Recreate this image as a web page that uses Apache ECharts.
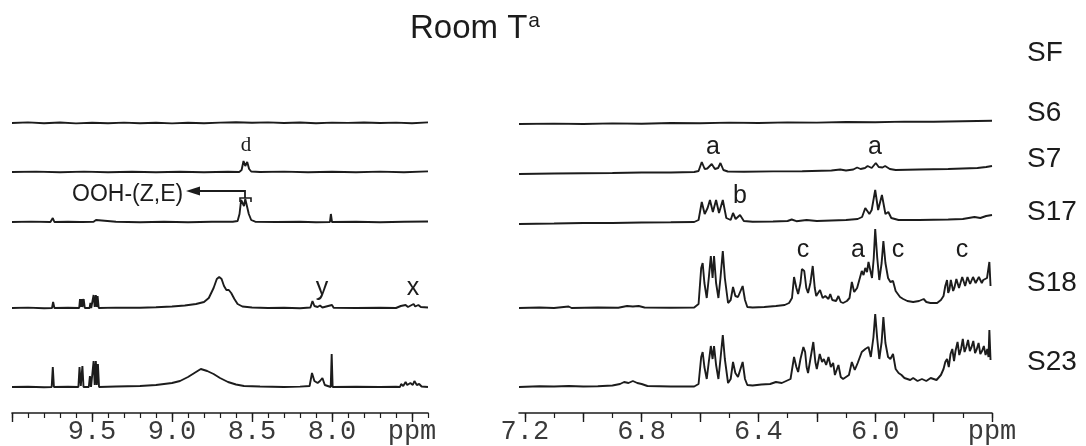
<!DOCTYPE html>
<html>
<head>
<meta charset="utf-8">
<script src="https://cdn.jsdelivr.net/npm/echarts@6/dist/echarts.min.js"></script>
<style>html,body{margin:0;padding:0;background:#fff}#c{width:1086px;height:446px}</style>
</head>
<body>
<div id="c"></div>
<script>
// ---------- DATA (ppm, intensity) ----------
const sampleNames = ['SF', 'S6', 'S7', 'S17', 'S18', 'S23'];
const leftTickLabels = [9.5, 9.0, 8.5, 8.0];
const rightTickLabels = [7.2, 6.8, 6.4, 6.0];
const unitLabel = 'ppm';

// Left panel (10.0 - 7.4 ppm)
const S6_L = [[10.0,0],[9.9,0.6],[9.8,-0.3],[9.7,0.5],[9.6,-0.4],[9.5,0.3],[9.4,-0.3],[9.3,0.4],[9.2,-0.2],[9.1,0.3],[9.0,-0.4],[8.9,0.3],[8.8,-0.2],[8.7,0.4],[8.6,0.8],[8.5,0.2],[8.4,0.6],[8.3,0],[8.2,0.5],[8.1,-0.2],[8.0,0.4],[7.9,0.1],[7.8,0.5],[7.7,0],[7.6,0.4],[7.5,-0.2],[7.4,0.6]];
const S7_L = [[10.0,0],[9.85,0.4],[9.7,-0.3],[9.55,0.4],[9.4,-0.2],[9.25,0.3],[9.1,-0.3],[8.95,0.3],[8.8,-0.2],[8.65,0.3],[8.58,0],[8.565,2],[8.553,11],[8.542,6],[8.53,10],[8.518,3],[8.505,0.5],[8.45,0],[8.3,0.4],[8.15,-0.3],[8.0,0.3],[7.85,-0.2],[7.7,0.4],[7.55,-0.2],[7.4,0.6]];
const S17_L = [[10.0,0],[9.88,0.4],[9.76,0],[9.745,4],[9.735,0],[9.65,0.3],[9.575,0],[9.568,2],[9.56,0],[9.49,0.3],[9.475,2],[9.468,0],[9.35,0.3],[9.2,-0.2],[9.05,0.3],[8.9,-0.2],[8.75,0.3],[8.62,0.2],[8.59,1],[8.578,8],[8.568,22],[8.56,24],[8.55,16],[8.542,23],[8.532,21],[8.52,8],[8.505,2],[8.48,0.3],[8.35,0],[8.2,0.3],[8.1,-0.2],[8.013,0],[8.007,8],[8.0,0],[7.85,0.3],[7.7,-0.2],[7.55,0.3],[7.4,0.5]];
const S18_L = [[10.0,0],[9.9,0.4],[9.8,-0.3],[9.75,0],[9.743,6],[9.735,0],[9.65,0.3],[9.58,0],[9.575,9],[9.57,1],[9.565,9],[9.56,1],[9.552,9],[9.545,0],[9.515,0],[9.51,5],[9.505,0],[9.495,0],[9.49,13],[9.483,1],[9.476,13],[9.47,1],[9.465,12],[9.458,0],[9.35,0.4],[9.2,0.3],[9.1,0.8],[9.0,1.5],[8.92,2.5],[8.85,4],[8.8,6],[8.77,10],[8.74,20],[8.72,29],[8.705,31],[8.69,29],[8.675,22],[8.66,18],[8.645,18],[8.63,15],[8.61,9],[8.59,4],[8.56,1.5],[8.5,0.5],[8.4,0],[8.3,0.3],[8.2,-0.2],[8.135,0.5],[8.122,7],[8.11,2],[8.09,1],[8.075,2.5],[8.06,0.5],[8.0,3],[7.99,0.3],[7.85,0],[7.7,0.3],[7.6,0],[7.57,2],[7.56,0.5],[7.54,3],[7.525,1],[7.49,4],[7.48,1.5],[7.46,3],[7.445,1],[7.4,0.5]];
const S23_L = [[10.0,0],[9.9,0.3],[9.8,-0.2],[9.752,0],[9.745,20],[9.738,0],[9.65,0.3],[9.585,0],[9.578,20],[9.57,1],[9.56,21],[9.553,0],[9.52,0],[9.513,11],[9.506,0],[9.495,0],[9.49,26],[9.483,2],[9.476,26],[9.47,2],[9.463,23],[9.456,0],[9.35,0.5],[9.2,1],[9.1,2],[9.0,4],[8.95,6],[8.9,10],[8.86,14],[8.82,18],[8.78,16],[8.74,13],[8.7,9],[8.65,5],[8.6,2.5],[8.55,1],[8.45,0.5],[8.3,0],[8.2,0.4],[8.14,1],[8.125,14],[8.11,6],[8.09,4],[8.075,6],[8.06,9],[8.045,2],[8.008,0],[8.002,33],[7.996,0],[7.85,0.3],[7.7,0],[7.6,0.3],[7.575,0],[7.568,3],[7.555,1],[7.54,5],[7.53,2],[7.51,4],[7.495,2],[7.485,6],[7.47,2],[7.455,3],[7.44,0.5],[7.4,0]];

// Right panel (7.22 - 5.6 ppm)
const S6_R = [[7.22,-1],[7.1,-0.6],[7.0,-1],[6.9,-0.4],[6.8,-0.7],[6.7,0],[6.6,-0.3],[6.5,0.4],[6.4,0],[6.3,0.6],[6.2,0.4],[6.1,1],[6.0,0.8],[5.9,1.4],[5.8,1.2],[5.7,1.8],[5.6,2.2]];
const S7_R = [[7.22,-2],[7.1,-1.5],[7.0,-1.2],[6.9,-1],[6.8,-0.5],[6.7,-0.5],[6.62,0],[6.605,1],[6.594,10],[6.584,3],[6.575,3.5],[6.56,8],[6.549,3],[6.538,4],[6.53,9],[6.52,2],[6.505,0.5],[6.45,0.3],[6.35,0.6],[6.25,0.8],[6.15,1.5],[6.12,2.5],[6.1,1.5],[6.075,2.5],[6.062,4.5],[6.05,3],[6.035,4],[6.026,6],[6.012,4],[5.998,9],[5.988,5],[5.975,4.5],[5.966,6],[5.95,3],[5.93,2],[5.85,2.5],[5.75,3],[5.7,3.5],[5.65,4],[5.62,5],[5.6,6]];
const S17_R = [[7.22,-2],[7.1,-1.5],[7.0,-1],[6.9,-1],[6.8,-0.5],[6.7,-0.3],[6.62,0],[6.605,2],[6.594,20],[6.584,8],[6.574,14],[6.566,22],[6.556,10],[6.545,22],[6.535,9],[6.522,22],[6.51,4],[6.495,2],[6.487,9],[6.478,3],[6.463,7],[6.45,1],[6.42,0.3],[6.35,0.5],[6.3,1],[6.286,2.5],[6.27,0.8],[6.235,2],[6.2,1],[6.15,1.5],[6.1,2],[6.06,3],[6.045,5],[6.034,14],[6.02,8],[6.012,12],[6.0,32],[5.99,12],[5.977,27],[5.965,8],[5.955,10],[5.945,4],[5.92,2],[5.85,2],[5.75,2.5],[5.7,3],[5.66,5],[5.64,4],[5.62,6],[5.6,7]];
const S18_R = [[7.22,0],[7.15,0.5],[7.1,0],[7.05,1.5],[7.04,0],[6.95,0.5],[6.88,0.3],[6.85,2],[6.83,1.5],[6.81,2],[6.79,0.5],[6.7,0.3],[6.62,0.5],[6.605,4],[6.596,40],[6.591,45],[6.585,25],[6.577,10],[6.57,30],[6.563,52],[6.557,30],[6.552,52],[6.545,25],[6.537,10],[6.53,30],[6.522,57],[6.515,30],[6.504,5],[6.495,8],[6.487,21],[6.479,12],[6.47,11],[6.454,22],[6.446,8],[6.438,1],[6.42,0.5],[6.38,1],[6.34,2],[6.31,3],[6.295,5],[6.285,10],[6.278,31],[6.27,20],[6.264,14],[6.256,25],[6.251,39],[6.243,37],[6.236,20],[6.23,15],[6.222,25],[6.214,42],[6.207,20],[6.202,12],[6.189,18],[6.18,10],[6.171,12],[6.16,9],[6.154,14],[6.147,8],[6.141,10],[6.134,7],[6.126,12],[6.118,6],[6.11,5],[6.097,7],[6.088,10],[6.08,26],[6.072,16],[6.062,20],[6.046,37],[6.04,33],[6.034,40],[6.028,36],[6.023,46],[6.017,38],[6.011,30],[6.005,50],[6.0,79],[5.993,50],[5.986,28],[5.978,45],[5.972,67],[5.965,45],[5.956,30],[5.948,26],[5.939,27],[5.93,17],[5.926,15],[5.915,11],[5.904,9],[5.89,7],[5.87,6],[5.85,7],[5.834,9],[5.825,6],[5.811,5],[5.8,5],[5.788,5],[5.775,8],[5.766,12],[5.76,22],[5.754,28],[5.75,15],[5.746,18],[5.741,28],[5.737,29],[5.733,17],[5.729,20],[5.722,29],[5.718,30],[5.713,20],[5.709,22],[5.702,31],[5.697,32],[5.692,22],[5.688,24],[5.684,31],[5.68,32],[5.675,24],[5.671,26],[5.665,31],[5.661,31],[5.656,25],[5.65,27],[5.645,31],[5.64,30],[5.635,25],[5.63,28],[5.624,27],[5.617,30],[5.612,29],[5.609,46],[5.605,22]];
const S23_R = [[7.22,0],[7.15,0.8],[7.1,0.5],[7.05,1],[7.0,0.5],[6.95,0.8],[6.9,1.5],[6.874,3],[6.86,5],[6.845,4],[6.83,6],[6.815,4],[6.8,3],[6.78,1],[6.7,0.5],[6.62,0.5],[6.605,3],[6.596,30],[6.591,35],[6.585,20],[6.577,8],[6.57,25],[6.563,41],[6.557,28],[6.552,41],[6.545,22],[6.537,8],[6.53,28],[6.522,52],[6.515,28],[6.504,4],[6.495,8],[6.487,25],[6.479,14],[6.47,10],[6.454,25],[6.446,8],[6.438,2],[6.42,1.5],[6.39,2.5],[6.36,3],[6.34,5],[6.32,4],[6.305,6],[6.29,8],[6.278,30],[6.27,20],[6.264,15],[6.256,28],[6.246,40],[6.24,35],[6.235,20],[6.23,14],[6.222,28],[6.212,45],[6.205,25],[6.2,18],[6.19,33],[6.182,25],[6.176,28],[6.168,22],[6.16,30],[6.152,20],[6.144,24],[6.138,12],[6.126,22],[6.118,10],[6.11,8],[6.1,10],[6.09,12],[6.08,25],[6.07,17],[6.06,24],[6.046,35],[6.034,38],[6.023,40],[6.015,30],[6.006,50],[6.0,73],[5.993,48],[5.986,28],[5.978,45],[5.972,70],[5.965,44],[5.956,30],[5.948,28],[5.939,33],[5.93,18],[5.92,14],[5.91,12],[5.9,9],[5.88,7],[5.87,9],[5.855,6],[5.84,8],[5.825,6],[5.81,9],[5.79,7],[5.775,12],[5.766,18],[5.76,25],[5.754,28],[5.748,20],[5.742,33],[5.736,38],[5.73,26],[5.725,36],[5.718,45],[5.712,32],[5.706,38],[5.7,48],[5.694,35],[5.688,40],[5.682,47],[5.676,36],[5.67,40],[5.664,46],[5.658,34],[5.652,38],[5.646,44],[5.64,33],[5.634,36],[5.628,41],[5.622,32],[5.616,38],[5.612,30],[5.609,57],[5.605,27]];

// ---------- LAYOUT ----------
const traceOffsets = { S6: 290, S7: 241, S17: 191, S18: 105, S23: 26 }; // stacking offsets (plot units)
const leftSpectra = { S6: S6_L, S7: S7_L, S17: S17_L, S18: S18_L, S23: S23_L };
const rightSpectra = { S6: S6_R, S7: S7_R, S17: S17_R, S18: S18_R, S23: S23_R };

const INK = '#1c1c1c';
const chart = echarts.init(document.getElementById('c'), null, { renderer: 'canvas' });

function range(a, b, step) { const out = []; for (let v = a; v <= b + 1e-9; v += step) out.push(Math.round(v * 100) / 100); return out; }

function makeAxes(gridIndex, min, max, labels, unitAt, majors, minorStep) {
  const labelVals = labels.concat([unitAt]);
  return [
    {
      type: 'value', gridIndex, min, max, inverse: true, position: 'bottom',
      axisLine: { show: true, lineStyle: { color: INK, width: 1.6 } },
      axisTick: { show: true, customValues: range(Math.ceil(min * 10) / 10, max, minorStep), length: 5, lineStyle: { color: INK, width: 1.2 } },
      axisLabel: {
        show: true, customValues: labelVals, margin: 5,
        formatter: v => Math.abs(v - unitAt) < 1e-6 ? unitLabel : v.toFixed(1),
        fontFamily: 'Liberation Mono', fontSize: 27, color: '#3a3a3a'
      },
      splitLine: { show: false }
    },
    {
      type: 'value', gridIndex, min, max, inverse: true, position: 'bottom', offset: 0,
      axisLine: { show: false },
      axisTick: { show: true, customValues: majors, length: 9, lineStyle: { color: INK, width: 1.4 } },
      axisLabel: { show: false },
      splitLine: { show: false }
    }
  ];
}

const xAxes = makeAxes(0, 7.4, 10.0, leftTickLabels, 7.5, [10.0, 9.5, 9.0, 8.5, 8.0, 7.5], 0.1)
  .concat(makeAxes(1, 5.6, 7.22, rightTickLabels, 5.6, [7.2, 7.0, 6.8, 6.6, 6.4, 6.2, 6.0, 5.8, 5.6], 0.1));

const series = [];
Object.keys(leftSpectra).forEach(name => {
  series.push({ type: 'line', name: name + ' left', xAxisIndex: 0, yAxisIndex: 0, showSymbol: false, silent: true,
    lineStyle: { color: INK, width: 1.9 }, data: leftSpectra[name].map(([p, v]) => [p, v + traceOffsets[name]]) });
  series.push({ type: 'line', name: name + ' right', xAxisIndex: 2, yAxisIndex: 1, showSymbol: false, silent: true,
    lineStyle: { color: INK, width: 1.9 }, data: rightSpectra[name].map(([p, v]) => [p, v + traceOffsets[name]]) });
});

const labelY = { SF: 53, S6: 113, S7: 159, S17: 212, S18: 283, S23: 362 };
const sans = 'Liberation Sans, Arial, sans-serif';
function txt(text, x, y, size, family, align) {
  return { type: 'text', x, y, silent: true, style: { text, fill: INK, font: `${size}px ${family}`, align: align || 'center', verticalAlign: 'middle' } };
}
const graphics = [];
sampleNames.forEach(n => graphics.push(txt(n, 1027, labelY[n], 28, sans, 'left')));
graphics.push(txt('Room T', 410, 29, 33, sans, 'left'));
graphics.push(txt('a', 534, 21, 21, sans, 'center'));
// peak annotations
graphics.push(txt('d', 246, 145, 21, 'Liberation Serif, serif'));
[['y', 322, 288], ['x', 413, 288], ['a', 713, 147], ['a', 875, 147], ['b', 740, 196], ['c', 803, 250], ['a', 858, 250], ['c', 898, 250], ['c', 962, 250]]
  .forEach(([t, x, y]) => graphics.push(txt(t, x, y, 25, sans)));
graphics.push(txt('OOH-(Z,E)', 72, 195, 23, sans, 'left'));
// arrow + bracket
graphics.push({ type: 'polyline', silent: true, shape: { points: [[197, 191], [245, 191], [245, 198]] }, style: { stroke: INK, lineWidth: 1.8, fill: null } });
graphics.push({ type: 'polygon', silent: true, shape: { points: [[186, 191], [200, 186.5], [200, 195.5]] }, style: { fill: INK } });
graphics.push({ type: 'polyline', silent: true, shape: { points: [[240, 202], [240, 198], [251, 198], [251, 202]] }, style: { stroke: INK, lineWidth: 1.6, fill: null } });

chart.setOption({
  animation: false,
  backgroundColor: '#fff',
  grid: [
    { left: 12, width: 416, top: 13, height: 400 },
    { left: 519, width: 473, top: 13, height: 400 }
  ],
  xAxis: xAxes,
  yAxis: [
    { type: 'value', gridIndex: 0, min: 0, max: 400, show: false },
    { type: 'value', gridIndex: 1, min: 0, max: 400, show: false }
  ],
  series,
  graphic: graphics
});
</script>
</body>
</html>
